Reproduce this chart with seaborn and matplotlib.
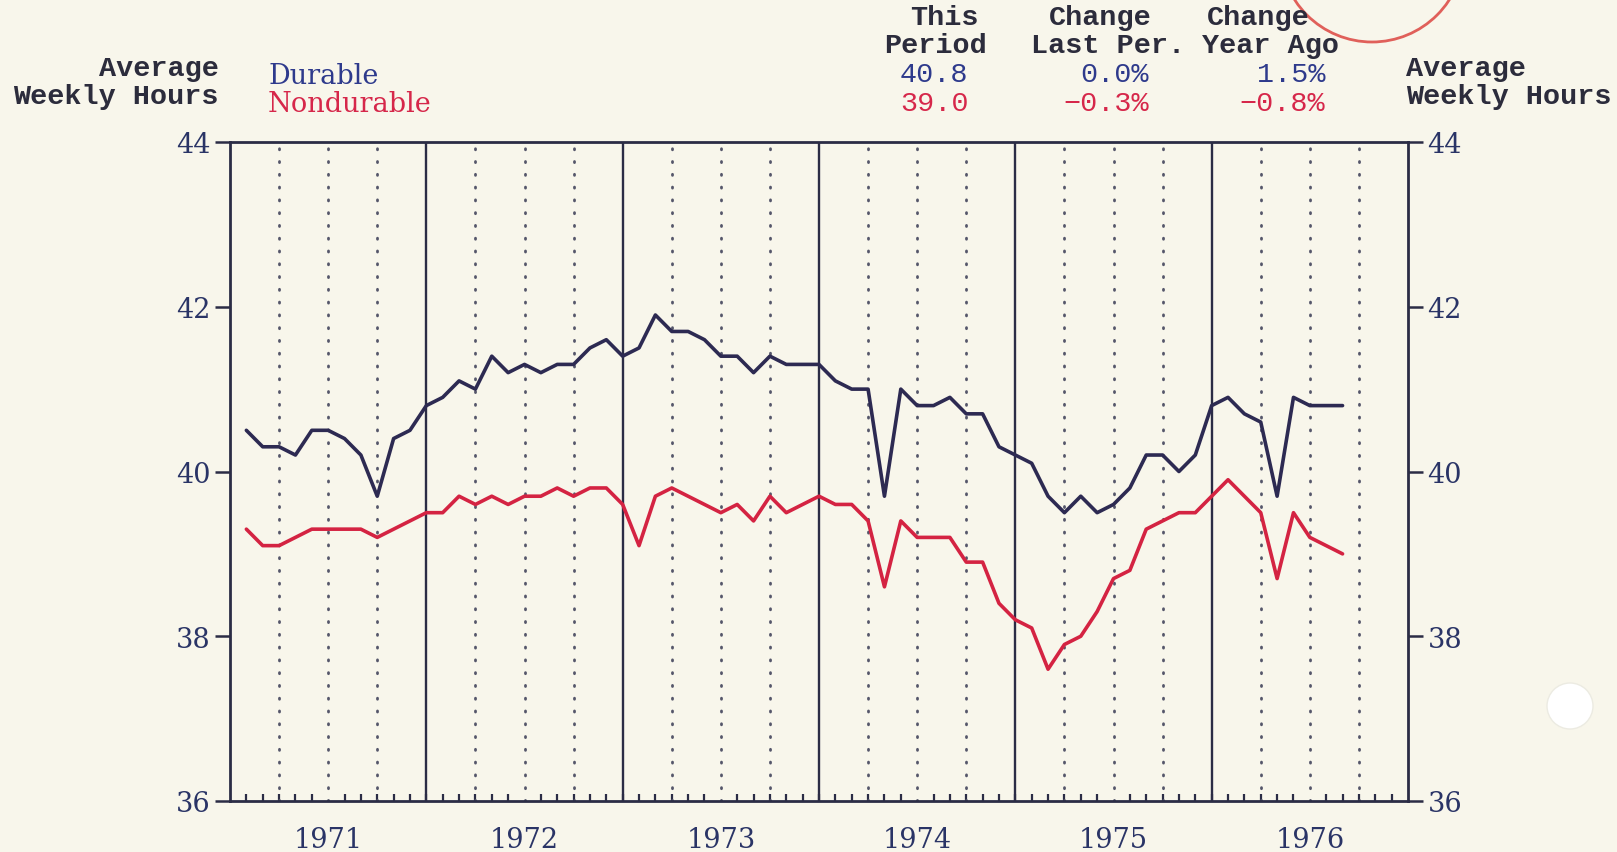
import numpy as np
import pandas as pd
import matplotlib.pyplot as plt
import seaborn as sns
from matplotlib.patches import Circle

# monthly average weekly hours, Jan 1971 - Aug 1976
years = [1971, 1972, 1973, 1974, 1975, 1976]
durable = [
    40.5, 40.3, 40.3, 40.2, 40.5, 40.5, 40.4, 40.2, 39.7, 40.4, 40.5, 40.8,
    40.9, 41.1, 41.0, 41.4, 41.2, 41.3, 41.2, 41.3, 41.3, 41.5, 41.6, 41.4,
    41.5, 41.9, 41.7, 41.7, 41.6, 41.4, 41.4, 41.2, 41.4, 41.3, 41.3, 41.3,
    41.1, 41.0, 41.0, 39.7, 41.0, 40.8, 40.8, 40.9, 40.7, 40.7, 40.3, 40.2,
    40.1, 39.7, 39.5, 39.7, 39.5, 39.6, 39.8, 40.2, 40.2, 40.0, 40.2, 40.8,
    40.9, 40.7, 40.6, 39.7, 40.9, 40.8, 40.8, 40.8,
]
nondurable = [
    39.3, 39.1, 39.1, 39.2, 39.3, 39.3, 39.3, 39.3, 39.2, 39.3, 39.4, 39.5,
    39.5, 39.7, 39.6, 39.7, 39.6, 39.7, 39.7, 39.8, 39.7, 39.8, 39.8, 39.6,
    39.1, 39.7, 39.8, 39.7, 39.6, 39.5, 39.6, 39.4, 39.7, 39.5, 39.6, 39.7,
    39.6, 39.6, 39.4, 38.6, 39.4, 39.2, 39.2, 39.2, 38.9, 38.9, 38.4, 38.2,
    38.1, 37.6, 37.9, 38.0, 38.3, 38.7, 38.8, 39.3, 39.4, 39.5, 39.5, 39.7,
    39.9, 39.7, 39.5, 38.7, 39.5, 39.2, 39.1, 39.0,
]
y_ticks = [36, 38, 40, 42, 44]

# summary table in the header
col_heads = [("This", "Period"), ("Change", "Last Per."), ("Change", "Year Ago")]
durable_stats = ["40.8", "0.0%", "1.5%"]
nondurable_stats = ["39.0", "\u22120.3%", "\u22120.8%"]

W, H = 1617, 853
paper = "#f8f6eb"
ink = "#2b2c45"
blue = "#2e3a8c"
red = "#d6274a"
navy_line = "#2d2a52"
red_line = "#d42342"

months = np.arange(1, len(durable) + 1)
t = years[0] + months / 12.0
df = pd.DataFrame({
    "t": np.concatenate([t, t]),
    "hours": durable + nondurable,
    "series": ["Durable"] * len(durable) + ["Nondurable"] * len(nondurable),
})

sns.set_theme(style="white")
plt.rcParams["font.family"] = ["DejaVu Serif"]

fig = plt.figure(figsize=(W / 100, H / 100), dpi=100, facecolor=paper)
ax = fig.add_axes([230 / W, 1 - 802 / H, (1408 - 230) / W, (802 - 143) / H])
ax.set_facecolor(paper)

# grid: solid year lines, dotted quarter lines
for yr in years[1:]:
    ax.axvline(yr, color=ink, lw=1.7, zorder=1)
for yr in years:
    for q in (0.25, 0.5, 0.75):
        ax.axvline(yr + q, color="#55566a", lw=2.0, linestyle=(0, (0.4, 4.2)),
                   dash_capstyle="round", zorder=1)

sns.lineplot(data=df, x="t", y="hours", hue="series",
             palette={"Durable": navy_line, "Nondurable": red_line},
             linewidth=2.6, legend=False, ax=ax, zorder=3)

ax.set_xlim(years[0], years[-1] + 1)
ax.set_ylim(y_ticks[0], y_ticks[-1])
ax.set_xlabel("")
ax.set_ylabel("")

for s in ax.spines.values():
    s.set_color(ink)
    s.set_linewidth(2.0)
    s.set_visible(True)

ax.set_yticks(y_ticks)
ax.set_yticklabels([str(v) for v in y_ticks])
ax.tick_params(axis="y", which="major", direction="out", length=11, width=1.8,
               color=ink, left=True, right=True, labelleft=True, labelright=True,
               labelsize=19.5, labelcolor="#2a3466", pad=3)

ax.set_xticks([yr + 0.5 for yr in years])
ax.set_xticklabels([str(yr) for yr in years])
ax.tick_params(axis="x", which="major", length=0, labelsize=19.5,
               labelcolor="#2a3466", pad=18)
ax.set_xticks(years[0] + np.arange(1, 12 * len(years)) / 12.0, minor=True)
ax.tick_params(axis="x", which="minor", direction="in", length=5, width=1.6,
               color=ink, bottom=True, top=False)


def fx(x):
    return x / W


def fy(y):
    return 1 - y / H


mono = ["Liberation Mono", "DejaVu Sans Mono"]
hdr = dict(family=mono, fontsize=20.5, fontweight="bold", color="#2c2c3c", va="center")

# axis captions, left and right
fig.text(fx(219), fy(69), "Average", ha="right", **hdr)
fig.text(fx(219), fy(97), "Weekly Hours", ha="right", **hdr)
fig.text(fx(1406), fy(69), "Average", ha="left", **hdr)
fig.text(fx(1406), fy(97), "Weekly Hours", ha="left", **hdr)

# series names
fig.text(fx(268), fy(76), "Durable", ha="left", va="center", fontsize=19.5,
         color=blue, family=["DejaVu Serif"])
fig.text(fx(268), fy(105), "Nondurable", ha="left", va="center", fontsize=19.5,
         color=red, family=["DejaVu Serif"])

# summary table
head_x = [(944, 935), (1100, 1108), (1258, 1270)]
for (top, bot), (x1, x2) in zip(col_heads, head_x):
    fig.text(fx(x1), fy(18), top, ha="center", **hdr)
    fig.text(fx(x2), fy(46), bot, ha="center", **hdr)

val_x = [(900, "left"), (1149, "right"), (1325, "right")]
for (x, ha), dv, nv in zip(val_x, durable_stats, nondurable_stats):
    fig.text(fx(x), fy(75), dv, ha=ha, family=mono, fontsize=20.5, color=blue, va="center")
    fig.text(fx(x), fy(104), nv, ha=ha, family=mono, fontsize=20.5, color=red, va="center")

# stamp edge at top right and hole punch
fig.patches.append(Circle((1372, H + 49), 92, transform=None, fill=False,
                          edgecolor="#e0605a", lw=2.0, zorder=0))
fig.patches.append(Circle((1570, H - 707), 23, transform=None, facecolor="white",
                          edgecolor="#ecebe2", lw=1.0, zorder=0))

fig.savefig("out.png", dpi=100, facecolor=paper)
